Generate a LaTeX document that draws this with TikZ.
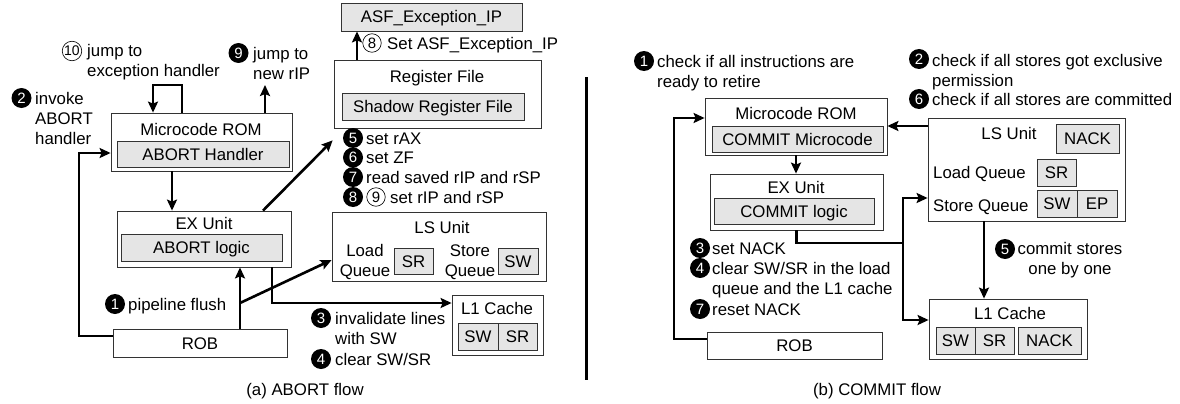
\documentclass[tikz,border=0pt]{standalone}
\usepackage{fontspec}
\setmainfont{Liberation Sans}
\usetikzlibrary{arrows.meta,calc}
\begin{document}
\begin{tikzpicture}[x=1pt,y=-1pt,
  font=\fontsize{16.8}{20}\selectfont,
  box/.style={draw=black!80, line width=0.8pt, fill=white, inner sep=0pt, text height=12pt, text depth=0pt},
  gbox/.style={box, fill=black!10},
  lbl/.style={inner sep=0pt, text height=12pt, text depth=0pt},
  ann/.style={inner sep=0pt, anchor=west, text height=12pt, text depth=0pt},
  mann/.style={inner sep=0pt, anchor=base west, align=left},
  bn/.style={circle, fill=black, text=white, inner sep=0pt, minimum size=20pt, font=\fontsize{15}{15}\selectfont},
  wn/.style={circle, draw=black, line width=0.6pt, fill=white, inner sep=0pt, minimum size=18.5pt, font=\fontsize{15}{15}\selectfont},
  arr/.style={line width=2.6pt, -{Stealth[length=11pt,width=10pt,inset=2pt]}},
  ln/.style={line width=2.6pt}]
\useasboundingbox (0,0) rectangle (1180,404);

% ---------------- (a) ABORT flow ----------------
\node[gbox, minimum width=181pt, minimum height=28pt] (asf) at (431.5,17) {ASF\_Exception\_IP};
\node[box, minimum width=207pt, minimum height=68pt] (rf) at (437.5,94) {};
\node[lbl] (rft) at (437,76) {Register File};
\node[gbox, minimum width=182pt, minimum height=27pt] (srf) at (433,106.5) {Shadow Register File};

\node[box, minimum width=181pt, minimum height=58pt] (romA) at (201.5,142) {};
\node[lbl] (romAt) at (201,129) {Microcode ROM};
\node[gbox, minimum width=172pt, minimum height=26pt] (abh) at (203,154) {ABORT Handler};

\node[box, minimum width=174pt, minimum height=56pt] (exA) at (204,239) {};
\node[lbl] (exAt) at (204,223) {EX Unit};
\node[gbox, minimum width=161pt, minimum height=27pt] (abl) at (201.5,247.5) {ABORT logic};

\node[box, minimum width=174pt, minimum height=28pt] (robA) at (200,343) {ROB};

\node[box, minimum width=214pt, minimum height=69pt] (lsA) at (439,246.5) {};
\node[lbl] (lsAt) at (442,227) {LS Unit};
\node[inner sep=0pt, anchor=base, align=center] (lqA) at (365,276) {Load\\Queue};
\node[gbox, minimum width=39pt, minimum height=26pt] (srA) at (413.5,261) {SR};
\node[inner sep=0pt, anchor=base, align=center] (sqA) at (470,276) {Store\\Queue};
\node[gbox, minimum width=40pt, minimum height=26pt] (swA) at (518,261) {SW};

\node[box, minimum width=91pt, minimum height=60pt] (l1A) at (497.5,325) {};
\node[lbl] (l1At) at (497,308) {L1 Cache};
\node[gbox, minimum width=40pt, minimum height=27pt] (l1swA) at (478,336.5) {SW};
\node[gbox, minimum width=39pt, minimum height=27pt] (l1srA) at (517.5,336.5) {SR};

% connectors (a)
\coordinate (lpR) at (182,85);
\coordinate (lpL) at (153,85);
\draw[arr] (romA.north -| lpR) -- (lpR) -- (lpL) -- (romA.north -| lpL);
\coordinate (ripA) at (265,85);
\draw[arr] (romA.north -| ripA) -- (ripA);
\coordinate (invA) at (79,153);
\draw[arr] ([yshift=7pt]robA.west) -| (invA) -- ([yshift=-11pt]romA.west);
\draw[arr] ([xshift=-29.5pt]romA.south) -- ([xshift=-29.5pt]romA.south |- exA.north);
\draw[arr] ([xshift=59pt]exA.north) -- ([xshift=-1pt,yshift=-12pt]rf.south west);
\draw[arr] ([xshift=40pt]robA.north) -- ([xshift=40pt]robA.north |- exA.south);
\coordinate (brA) at (240,303);
\draw[arr] (brA) -- ([yshift=-13.5pt]lsA.west);
\draw[arr] ([xshift=68pt]exA.south) |- ([yshift=22pt]l1A.west);
\draw[arr] ([xshift=-80.5pt]rf.north) -- ([xshift=-80.5pt]rf.north |- asf.south);

% annotations (a)
\node[wn, minimum size=19.5pt, font=\fontsize{14}{14}\selectfont] (n10a) at (72,51) {10};
\node[mann] (t10a) at (87,76) {jump to\\exception handler};
\node[bn] (n9a) at (238.5,53) {9};
\node[mann] (t9a) at (253,79) {jump to\\new rIP};
\node[bn] (n2a) at (21.5,98) {2};
\node[mann] (t2a) at (35,144) {invoke\\ABORT\\handler};
\node[wn] (n8oa) at (372,43) {8};
\node[ann] (t8oa) at (387,43) {Set ASF\_Exception\_IP};
\node[bn] (n5a) at (353,138) {5};
\node[ann] (t5a) at (366,138) {set rAX};
\node[bn] (n6a) at (353,157.5) {6};
\node[ann] (t6a) at (366,157.5) {set ZF};
\node[bn] (n7a) at (353,177) {7};
\node[ann] (t7a) at (366,177) {read saved rIP and rSP};
\node[bn] (n8a) at (353,197) {8};
\node[wn] (n9oa) at (376,197) {9};
\node[ann] (t8a) at (390,197) {set rIP and rSP};
\node[bn] (n1a) at (115,304) {1};
\node[ann] (t1a) at (128,304) {pipeline flush};
\node[bn] (n3a) at (321,318) {3};
\node[mann] (t3a) at (335,344) {invalidate lines\\with SW};
\node[bn] (n4a) at (321,359) {4};
\node[ann] (t4a) at (335,359) {clear SW/SR};
\node[lbl] (capA) at (305,389) {(a) ABORT flow};

% separator
\coordinate (sepT) at (586,77);
\coordinate (sepB) at (586,380);
\draw[line width=3pt] (sepT) -- (sepB);

% ---------------- (b) COMMIT flow ----------------
\node[box, minimum width=182pt, minimum height=57pt] (romB) at (796,126.5) {};
\node[lbl] (romBt) at (796,113) {Microcode ROM};
\node[gbox, minimum width=171pt, minimum height=26pt] (cmc) at (797.5,139) {COMMIT Microcode};

\node[box, minimum width=173pt, minimum height=56pt] (exB) at (796.5,202) {};
\node[lbl] (exBt) at (796,187) {EX Unit};
\node[gbox, minimum width=160pt, minimum height=26pt] (cl) at (794,211) {COMMIT logic};

\node[box, minimum width=175pt, minimum height=27pt] (robB) at (794.5,345.5) {ROB};

\node[box, minimum width=197pt, minimum height=103pt] (lsB) at (1026.5,169.5) {};
\node[lbl] (lsBt) at (1009,133) {LS Unit};
\node[gbox, minimum width=63pt, minimum height=29pt] (nackB) at (1087.5,138.5) {NACK};
\node[ann] (lqB) at (933,172) {Load Queue};
\node[gbox, minimum width=39pt, minimum height=27pt] (srB) at (1056.5,172.5) {SR};
\node[ann] (sqB) at (933,205) {Store Queue};
\node[gbox, minimum width=40pt, minimum height=27pt] (swB) at (1057,203.5) {SW};
\node[gbox, minimum width=40pt, minimum height=27pt] (epB) at (1097,203.5) {EP};

\node[box, minimum width=158pt, minimum height=60pt] (l1B) at (1008,329) {};
\node[lbl] (l1Bt) at (1010,313) {L1 Cache};
\node[gbox, minimum width=39pt, minimum height=27pt] (l1swB) at (955.5,340.5) {SW};
\node[gbox, minimum width=39pt, minimum height=27pt] (l1srB) at (994.5,340.5) {SR};
\node[gbox, minimum width=63pt, minimum height=27pt] (l1nB) at (1049.5,340.5) {NACK};

% connectors (b)
\coordinate (invB) at (674,118);
\draw[arr] ([yshift=6.5pt]robB.west) -| (invB) -- ([yshift=8.5pt]romB.west);
\draw[arr] (romB.south) -- (romB.south |- exB.north);
\draw[arr] ([yshift=43.5pt]lsB.west) -- ([yshift=43.5pt]lsB.west -| romB.east);
\coordinate (brB) at (903,243);
\draw[ln] (exB.south) |- (brB);
\draw[arr] (brB) |- ([yshift=-28.5pt]lsB.west);
\draw[arr] (brB) |- ([yshift=9pt]l1B.west);
\draw[arr] ([xshift=-42.5pt]lsB.south) -- ([xshift=-42.5pt]lsB.south |- l1B.north);

% annotations (b)
\node[bn] (n1b) at (644,61) {1};
\node[mann] (t1b) at (657,87) {check if all instructions are\\ready to retire};
\node[bn] (n2b) at (919,59) {2};
\node[mann] (t2b) at (932,86) {check if all stores got exclusive\\permission};
\node[bn] (n6b) at (919,99) {6};
\node[ann] (t6b) at (932,99) {check if all stores are committed};
\node[bn] (n3b) at (700,248) {3};
\node[ann] (t3b) at (712,248) {set NACK};
\node[bn] (n4b) at (700,268) {4};
\node[mann] (t4b) at (712,294) {clear SW/SR in the load\\queue and the L1 cache};
\node[bn] (n7b) at (700,309) {7};
\node[ann] (t7b) at (712,309) {reset NACK};
\node[bn] (n5b) at (1005,249) {5};
\node[inner sep=0pt, anchor=base, align=center] (t5b) at (1070,274) {commit stores\\one by one};
\node[lbl] (capB) at (877,389) {(b) COMMIT flow};
\end{tikzpicture}
\end{document}
